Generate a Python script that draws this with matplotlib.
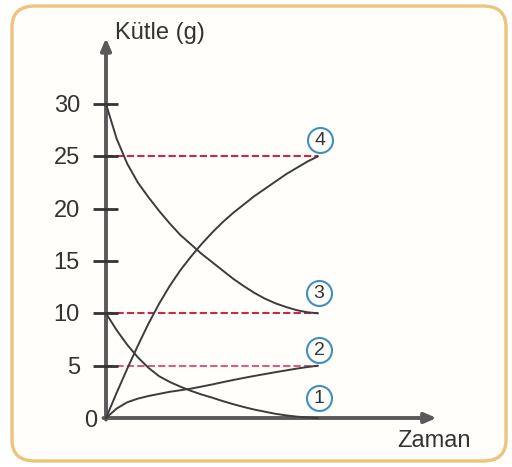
import matplotlib
matplotlib.use("Agg")
import matplotlib.pyplot as plt
from matplotlib.patches import FancyBboxPatch

# Time samples and mass readings (g) for the four substances
time = [0, 0.5, 1, 1.5, 2, 2.5, 3, 3.5, 4, 4.5, 5,
        5.5, 6, 6.5, 7, 7.5, 8, 8.5, 9, 9.5, 10]
mass_1 = [10, 8.4, 7.0, 5.8, 4.8, 4.0, 3.45, 3.0, 2.6, 2.25, 1.95,
          1.62, 1.32, 1.05, 0.8, 0.6, 0.4, 0.25, 0.13, 0.05, 0]
mass_2 = [0, 0.9, 1.5, 1.85, 2.1, 2.3, 2.5, 2.65, 2.8, 3.0, 3.2,
          3.42, 3.63, 3.83, 4.02, 4.2, 4.38, 4.55, 4.72, 4.87, 5.0]
mass_3 = [30, 26.7, 24.3, 22.5, 21.1, 19.8, 18.6, 17.5, 16.6, 15.7, 14.9,
          14.1, 13.3, 12.6, 11.95, 11.4, 10.95, 10.6, 10.3, 10.1, 10.0]
mass_4 = [0, 2.4, 4.7, 6.9, 9.0, 10.9, 12.6, 14.1, 15.4, 16.6, 17.7,
          18.7, 19.6, 20.4, 21.2, 21.9, 22.6, 23.3, 23.9, 24.5, 25.0]

series = [mass_1, mass_2, mass_3, mass_4]
series_labels = ["1", "2", "3", "4"]
final_levels = [25, 10, 5]
level_colors = ["#c8284a", "#c8284a", "#d8607e"]
yticks = [0, 5, 10, 15, 20, 25, 30]

W, H, DPI = 512, 467, 100
fig = plt.figure(figsize=(W / DPI, H / DPI), dpi=DPI)
fig.patch.set_facecolor("white")

# rounded frame around the whole graphic
frame = FancyBboxPatch((12 / W, 6 / H), (494 / W), (455 / H),
                       boxstyle="round,pad=0,rounding_size=0.045",
                       transform=fig.transFigure, facecolor="#fffefb",
                       edgecolor="#ecc47c", linewidth=2.4, zorder=-5)
fig.patches.append(frame)

ax = fig.add_axes([0, 0, 1, 1])
ax.set_facecolor("none")
x_unit = 21.2      # pixels per time unit
y_unit = 10.467    # pixels per gram
x0_px, y0_px = 106, 418
ax.set_xlim(-x0_px / x_unit, (W - x0_px) / x_unit)
ax.set_ylim(-(H - y0_px) / y_unit, y0_px / y_unit)
ax.axis("off")

axis_color = "#5a5a5a"
text_color = "#333333"
font = "Liberation Sans"
fs = 17
t_end = time[-1]

# axes with arrow heads
ax.annotate("", xy=(15.6, 0), xytext=(-0.12, 0),
            arrowprops=dict(arrowstyle="-|>,head_length=0.7,head_width=0.3",
                            color=axis_color, lw=2.8, shrinkA=0, shrinkB=0))
ax.annotate("", xy=(0, 36.3), xytext=(0, -0.15),
            arrowprops=dict(arrowstyle="-|>,head_length=0.7,head_width=0.3",
                            color=axis_color, lw=2.8, shrinkA=0, shrinkB=0))

# y ticks and labels
for v in yticks[1:]:
    ax.plot([-0.6, 0.55], [v, v], color=text_color, lw=2.0,
            solid_capstyle="butt", zorder=3)
    ax.text(-1.23, v - 0.2, str(v), ha="right", va="center", fontsize=fs,
            color=text_color, family=font)
ax.text(-0.42, -0.3, str(yticks[0]), ha="right", va="center", fontsize=fs,
        color=text_color, family=font)

ax.text(0.42, 36.8, "Kütle (g)", ha="left", va="center", fontsize=fs,
        color=text_color, family=font)
ax.text(13.73, -2.2, "Zaman", ha="left", va="center", fontsize=fs,
        color=text_color, family=font)

# dashed reference lines at the final masses
for lvl, col in zip(final_levels, level_colors):
    ax.plot([0, t_end], [lvl, lvl], color=col, lw=1.5,
            linestyle=(0, (3.5, 1.5)), zorder=2)

# mass curves
for s in series:
    ax.plot(time, s, color="#3c3c3c", lw=1.4, zorder=4,
            solid_joinstyle="round", solid_capstyle="round")

# circled curve numbers
label_pos = [(10.05, 1.9), (10.05, 6.5), (10.05, 11.9), (10.1, 26.6)]
for lab, (lx, ly) in zip(series_labels, label_pos):
    ax.plot([lx], [ly], marker="o", markersize=18, markerfacecolor="white",
            markeredgecolor="#3f8fc0", markeredgewidth=1.5, zorder=5)
    ax.text(lx, ly - 0.05, lab, ha="center", va="center", fontsize=14,
            color=text_color, family=font, zorder=6)

fig.savefig("out.png", dpi=DPI)
